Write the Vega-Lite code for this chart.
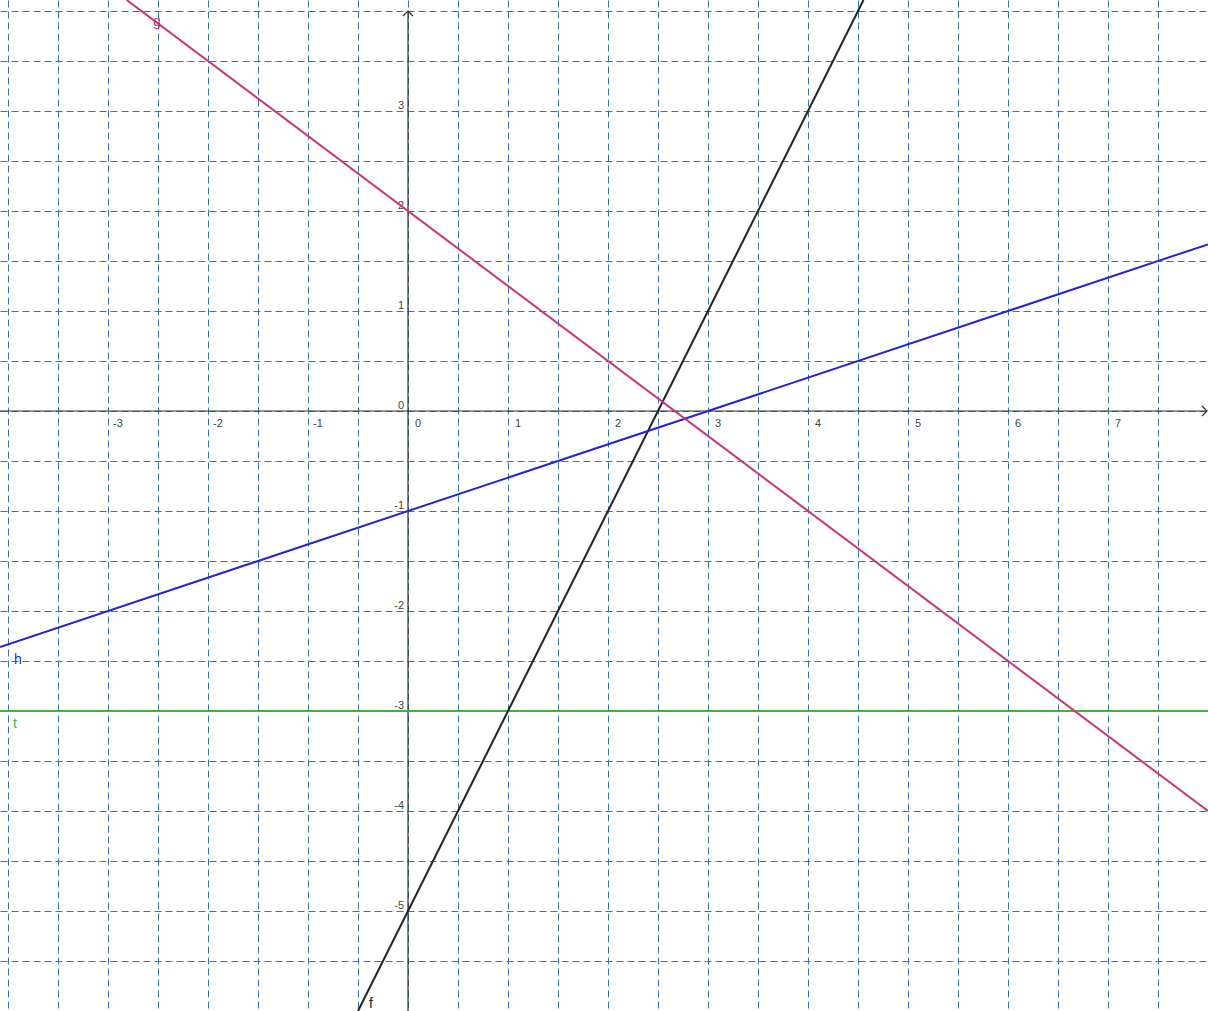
{
  "$schema": "https://vega.github.io/schema/vega-lite/v6.json",
  "width": 1208,
  "height": 1011,
  "autosize": {"type": "none"},
  "padding": 0,
  "background": "white",
  "config": {"view": {"stroke": null}},
  "datasets": {
    "lines": [
      {"name": "t", "x": -4.08, "y": -3},
      {"name": "t", "x": 8, "y": -3},
      {"name": "f", "x": -0.5, "y": -6},
      {"name": "f", "x": 4.555, "y": 4.11},
      {"name": "h", "x": -4.08, "y": -2.36},
      {"name": "h", "x": 8, "y": 1.6667},
      {"name": "g", "x": -2.8133, "y": 4.11},
      {"name": "g", "x": 8, "y": -4}
    ],
    "axes": [
      {"id": "x", "x1": -4.08, "x2": 7.99, "y1": 0, "y2": 0},
      {"id": "y", "x1": 0, "x2": 0, "y1": -6, "y2": 4.0}
    ],
    "arrows": [
      {"id": "x", "x": 7.99, "y": 0},
      {"id": "y", "x": 0, "y": 4.0}
    ],
    "xlabels": [
      {"v": -3, "t": "-3"}, {"v": -2, "t": "-2"}, {"v": -1, "t": "-1"}, {"v": 0, "t": "0"},
      {"v": 1, "t": "1"}, {"v": 2, "t": "2"}, {"v": 3, "t": "3"}, {"v": 4, "t": "4"},
      {"v": 5, "t": "5"}, {"v": 6, "t": "6"}, {"v": 7, "t": "7"}
    ],
    "ylabels": [
      {"v": 3, "t": "3"}, {"v": 2, "t": "2"}, {"v": 1, "t": "1"}, {"v": 0, "t": "0"},
      {"v": -1, "t": "-1"}, {"v": -2, "t": "-2"}, {"v": -3, "t": "-3"}, {"v": -4, "t": "-4"},
      {"v": -5, "t": "-5"}
    ],
    "names": [
      {"name": "h", "x": -3.9, "y": -2.49},
      {"name": "t", "x": -3.93, "y": -3.13},
      {"name": "g", "x": -2.51, "y": 3.89},
      {"name": "f", "x": -0.37, "y": -5.93}
    ]
  },
  "layer": [
    {
      "data": {"name": "axes"},
      "mark": {"type": "rule", "color": "#333333", "strokeWidth": 1.2},
      "encoding": {
        "x": {
          "field": "x1", "type": "quantitative",
          "scale": {"domain": [-4.08, 8], "nice": false, "zero": false},
          "axis": {
            "values": [-4, -3.5, -3, -2.5, -2, -1.5, -1, -0.5, 0, 0.5, 1, 1.5, 2, 2.5, 3, 3.5, 4, 4.5, 5, 5.5, 6, 6.5, 7, 7.5, 8],
            "grid": true, "labels": false, "ticks": false, "domain": false, "title": null,
            "gridDash": [7, 4], "gridColor": "#3572b8", "gridWidth": 1, "gridOpacity": 1
          }
        },
        "x2": {"field": "x2"},
        "y": {
          "field": "y1", "type": "quantitative",
          "scale": {"domain": [-6, 4.11], "nice": false, "zero": false},
          "axis": {
            "values": [-6, -5.5, -5, -4.5, -4, -3.5, -3, -2.5, -2, -1.5, -1, -0.5, 0, 0.5, 1, 1.5, 2, 2.5, 3, 3.5, 4],
            "grid": true, "labels": false, "ticks": false, "domain": false, "title": null,
            "gridDash": [7, 4], "gridColor": "#3572b8", "gridWidth": 1, "gridOpacity": 1
          }
        },
        "y2": {"field": "y2"}
      }
    },
    {
      "data": {"name": "arrows"},
      "mark": {"type": "point", "filled": false, "stroke": "#333333", "strokeWidth": 1.2, "size": 100, "opacity": 1},
      "encoding": {
        "x": {"field": "x", "type": "quantitative", "scale": {"domain": [-4.08, 8], "nice": false, "zero": false}},
        "y": {"field": "y", "type": "quantitative", "scale": {"domain": [-6, 4.11], "nice": false, "zero": false}},
        "shape": {
          "field": "id", "type": "nominal",
          "scale": {"domain": ["x", "y"], "range": ["M-1,-1L0,0L-1,1", "M-1,1L0,0L1,1"]},
          "legend": null
        }
      }
    },
    {
      "data": {"name": "xlabels"},
      "mark": {"type": "text", "dx": 10, "dy": 13, "align": "center", "baseline": "middle", "fontSize": 11, "font": "Liberation Sans", "color": "#444444"},
      "encoding": {
        "x": {"field": "v", "type": "quantitative", "scale": {"domain": [-4.08, 8], "nice": false, "zero": false}},
        "y": {"datum": 0, "type": "quantitative", "scale": {"domain": [-6, 4.11], "nice": false, "zero": false}},
        "text": {"field": "t"}
      }
    },
    {
      "data": {"name": "ylabels"},
      "mark": {"type": "text", "dx": -4, "dy": -5, "align": "right", "baseline": "middle", "fontSize": 11, "font": "Liberation Sans", "color": "#444444"},
      "encoding": {
        "x": {"datum": 0, "type": "quantitative", "scale": {"domain": [-4.08, 8], "nice": false, "zero": false}},
        "y": {"field": "v", "type": "quantitative", "scale": {"domain": [-6, 4.11], "nice": false, "zero": false}},
        "text": {"field": "t"}
      }
    },
    {
      "data": {"name": "lines"},
      "mark": {"type": "line", "strokeWidth": 2, "clip": true},
      "encoding": {
        "x": {"field": "x", "type": "quantitative", "scale": {"domain": [-4.08, 8], "nice": false, "zero": false}},
        "y": {"field": "y", "type": "quantitative", "scale": {"domain": [-6, 4.11], "nice": false, "zero": false}},
        "color": {
          "field": "name", "type": "nominal",
          "scale": {"domain": ["f", "g", "h", "t"], "range": ["#222222", "#cc3377", "#2424dd", "#3cb43c"]},
          "legend": null
        },
        "detail": {"field": "name"},
        "order": {"field": "x", "type": "quantitative"}
      }
    },
    {
      "data": {"name": "names"},
      "mark": {"type": "text", "align": "center", "baseline": "middle", "fontSize": 14, "font": "Liberation Sans"},
      "encoding": {
        "x": {"field": "x", "type": "quantitative", "scale": {"domain": [-4.08, 8], "nice": false, "zero": false}},
        "y": {"field": "y", "type": "quantitative", "scale": {"domain": [-6, 4.11], "nice": false, "zero": false}},
        "color": {"field": "name", "type": "nominal", "legend": null},
        "text": {"field": "name"}
      }
    }
  ]
}
